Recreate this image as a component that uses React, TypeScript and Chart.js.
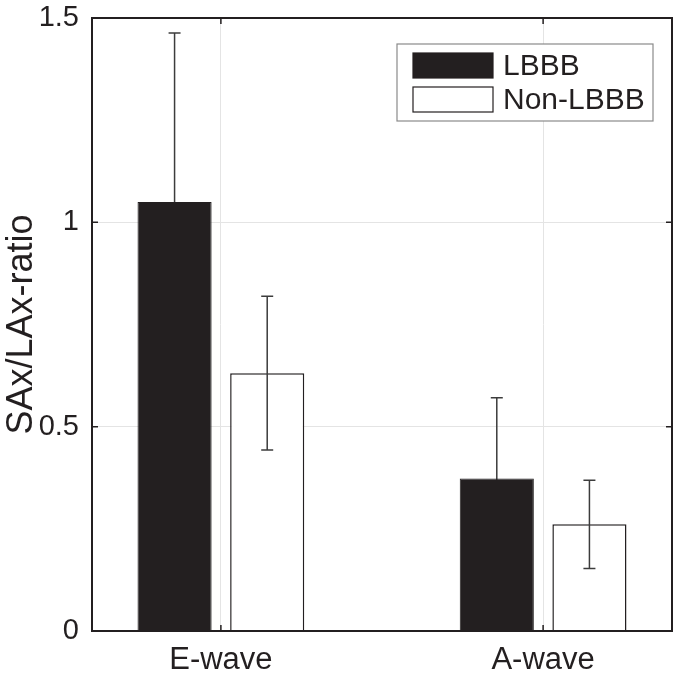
import React, { useEffect, useRef } from "react";
import { Chart, registerables } from "chart.js";

Chart.register(...registerables);

const categories = ["E-wave", "A-wave"];
const seriesNames = ["LBBB", "Non-LBBB"];
const lbbbMeans = [1.05, 0.373];
const lbbbErrors = [0.413, 0.198];
const nonLbbbMeans = [0.631, 0.261];
const nonLbbbErrors = [0.188, 0.108];
const yTicks = [0, 0.5, 1, 1.5];

const INK = "#231f20";
const FONT = "'Liberation Sans', Arial, sans-serif";

function drawErrors(chart: any, behind: boolean) {
  const ctx = chart.ctx;
  const yScale = chart.scales.y;
  ctx.save();
  ctx.strokeStyle = "#3c3c3c";
  ctx.lineWidth = 1.5;
  chart.data.datasets.forEach((ds: any, di: number) => {
    if (!!ds.errorsBehind !== behind) return;
    const meta = chart.getDatasetMeta(di);
    meta.data.forEach((bar: any, i: number) => {
      const m = ds.data[i].y;
      const e = ds.errors[i];
      const x = bar.x;
      const yTop = yScale.getPixelForValue(m + e);
      const yBot = yScale.getPixelForValue(m - e);
      ctx.beginPath();
      ctx.moveTo(x, yTop);
      ctx.lineTo(x, yBot);
      ctx.moveTo(x - 6, yTop);
      ctx.lineTo(x + 6, yTop);
      ctx.moveTo(x - 6, yBot);
      ctx.lineTo(x + 6, yBot);
      ctx.stroke();
    });
  });
  ctx.restore();
}

const errorBarPlugin = {
  id: "errorBars",
  beforeDatasetsDraw(chart: any) {
    drawErrors(chart, true);
  },
  afterDatasetsDraw(chart: any) {
    drawErrors(chart, false);
  },
};

const frameAndLegendPlugin = {
  id: "frameLegend",
  afterDraw(chart: any) {
    const ctx = chart.ctx;
    const a = chart.chartArea;
    const xs = chart.scales.x;
    const ys = chart.scales.y;
    ctx.save();
    ctx.strokeStyle = INK;
    ctx.lineWidth = 1.5;
    ctx.beginPath();
    [1, 2].forEach((v) => {
      const px = xs.getPixelForValue(v);
      ctx.moveTo(px, a.bottom);
      ctx.lineTo(px, a.bottom - 6);
      ctx.moveTo(px, a.top);
      ctx.lineTo(px, a.top + 6);
    });
    yTicks.forEach((v) => {
      const py = ys.getPixelForValue(v);
      ctx.moveTo(a.left, py);
      ctx.lineTo(a.left + 6, py);
      ctx.moveTo(a.right, py);
      ctx.lineTo(a.right - 6, py);
    });
    ctx.stroke();
    ctx.lineWidth = 2;
    ctx.strokeRect(a.left, a.top, a.right - a.left, a.bottom - a.top);

    const bx = a.right - 275;
    const by = a.top + 26;
    const bw = 256;
    const bh = 77;
    ctx.fillStyle = "#ffffff";
    ctx.fillRect(bx, by, bw, bh);
    ctx.strokeStyle = "#8a8a8a";
    ctx.lineWidth = 1.2;
    ctx.strokeRect(bx, by, bw, bh);
    chart.data.datasets.forEach((ds: any, i: number) => {
      const sy = by + 9 + i * 34;
      ctx.fillStyle = ds.backgroundColor;
      ctx.fillRect(bx + 16, sy, 80, 25);
      ctx.strokeStyle = INK;
      ctx.lineWidth = 1.2;
      ctx.strokeRect(bx + 16, sy, 80, 25);
      ctx.fillStyle = INK;
      ctx.font = `30px ${FONT}`;
      ctx.textAlign = "left";
      ctx.textBaseline = "middle";
      ctx.fillText(ds.label, bx + 106, sy + 13.5);
    });
    ctx.restore();
  },
};

export default function App() {
  const ref = useRef<HTMLCanvasElement>(null);
  useEffect(() => {
    document.body.style.margin = "0";
    const canvas = ref.current!;
    const chart = new Chart(canvas, {
      type: "bar",
      data: {
        datasets: [
          {
            label: seriesNames[0],
            data: categories.map((_, i) => ({ x: i + 1, y: lbbbMeans[i] })),
            errors: lbbbErrors,
            errorsBehind: true,
            backgroundColor: INK,
            borderColor: INK,
            borderWidth: 1,
          } as any,
          {
            label: seriesNames[1],
            data: categories.map((_, i) => ({ x: i + 1, y: nonLbbbMeans[i] })),
            errors: nonLbbbErrors,
            backgroundColor: "#ffffff",
            borderColor: INK,
            borderWidth: 1.5,
          } as any,
        ],
      },
      options: {
        animation: false,
        responsive: false,
        maintainAspectRatio: false,
        datasets: { bar: { categoryPercentage: 0.575, barPercentage: 0.8 } },
        layout: { padding: { top: 18, right: 3, left: 0, bottom: 0 } },
        plugins: { legend: { display: false }, tooltip: { enabled: false } },
        scales: {
          x: {
            type: "linear",
            min: 0.6,
            max: 2.4,
            offset: false,
            grid: { offset: false, color: "#e4e4e4", lineWidth: 1, drawTicks: false },
            border: { display: false },
            afterBuildTicks: (s: any) => {
              s.ticks = categories.map((_, i) => ({ value: i + 1 }));
            },
            afterFit: (s: any) => {
              s.height = 49;
              s.paddingLeft = 0;
              s.paddingRight = 0;
            },
            ticks: {
              padding: 11,
              color: INK,
              font: { family: FONT, size: 31 },
              callback: (v: any) => categories[Math.round(v) - 1] ?? "",
            },
          },
          y: {
            min: 0,
            max: 1.5,
            grid: { color: "#e4e4e4", lineWidth: 1, drawTicks: false },
            border: { display: false },
            afterBuildTicks: (s: any) => {
              s.ticks = yTicks.map((v) => ({ value: v }));
            },
            afterFit: (s: any) => {
              s.width = 92;
              s.paddingTop = 0;
              s.paddingBottom = 0;
            },
            ticks: {
              padding: 13,
              color: INK,
              font: { family: FONT, size: 29 },
              callback: (v: any) => String(v),
            },
            title: {
              display: true,
              text: "SAx/LAx-ratio",
              color: INK,
              font: { family: FONT, size: 36 },
              padding: { top: 0, bottom: 0 },
            },
          },
        },
      } as any,
      plugins: [errorBarPlugin, frameAndLegendPlugin],
    });
    return () => chart.destroy();
  }, []);
  return (
    <div style={{ width: 675, height: 680, background: "#fff" }}>
      <canvas ref={ref} width={675} height={680} style={{ display: "block" }} />
    </div>
  );
}
